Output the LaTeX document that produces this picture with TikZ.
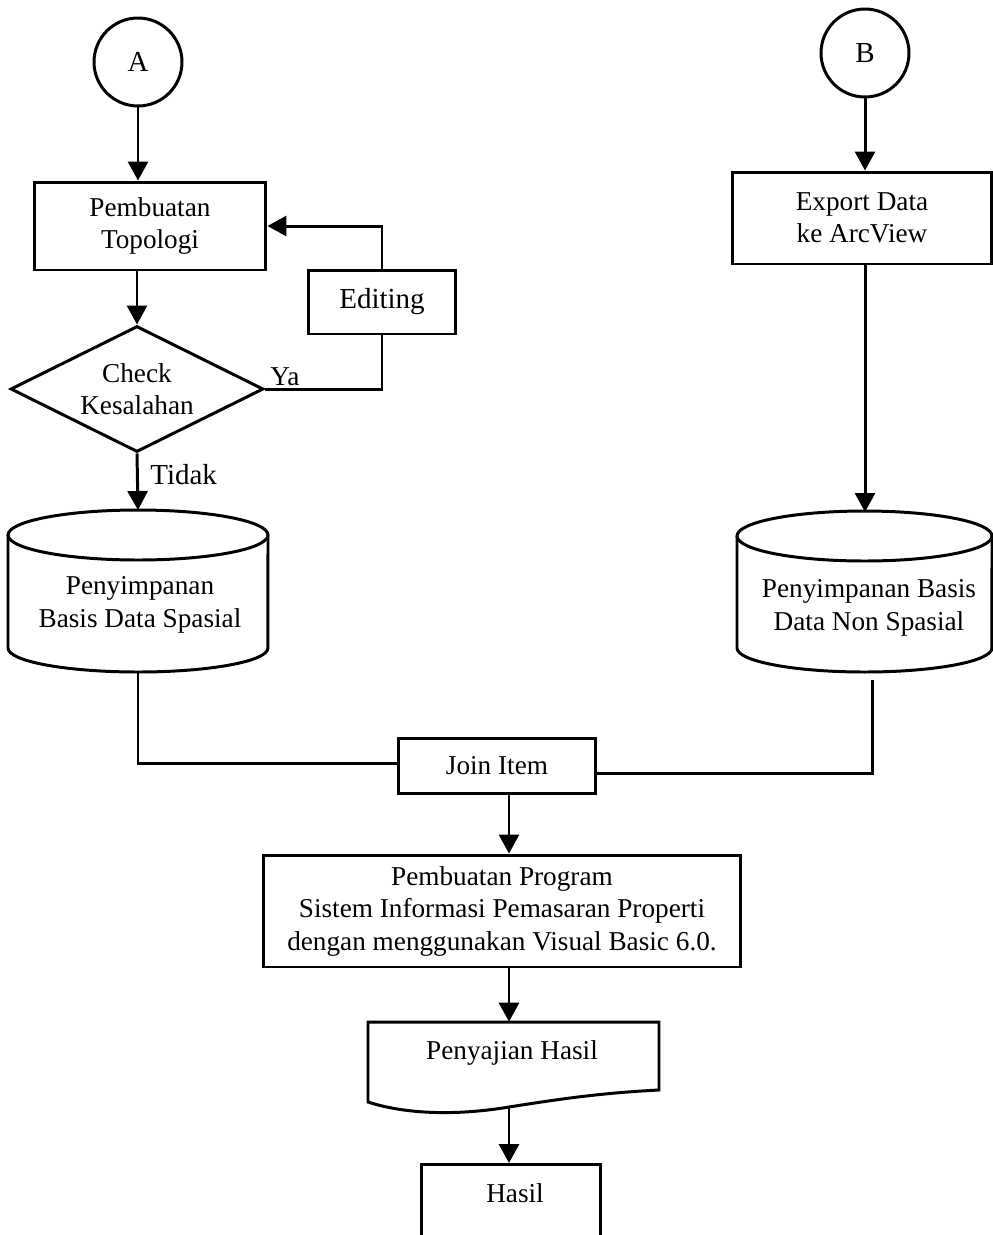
\documentclass[tikz,border=0pt]{standalone}
\usepackage{fontspec}
\setmainfont{Liberation Serif}
\usetikzlibrary{arrows.meta,shapes.geometric}
\begin{document}
\begin{tikzpicture}[x=0.02cm,y=-0.02cm,
  line/.style={line width=1.7pt},
  arr/.style={line, -{Triangle[length=0.38cm,width=0.4cm]}},
  txt/.style={font=\fontsize{15.5}{18.5}\selectfont, align=center},
  bigtxt/.style={font=\fontsize{16.5}{19.5}\selectfont},
  box/.style={txt, draw, line width=1.7pt, rectangle, inner sep=0pt},
  conn/.style={bigtxt, draw, circle, line width=1.7pt, minimum size=1.76cm, inner sep=0pt},
  plain/.style={txt, inner sep=0pt},
]
\useasboundingbox (0,0) rectangle (993,1235);
\clip (0,0) rectangle (993,1235);

% connectors A and B
\node[conn] (circA) at (138,62) {A};
\node[conn] (circB) at (865,53) {B};

% left branch: topology
\node[box, minimum width=4.64cm, minimum height=1.76cm] (topo) at (150,226) {Pembuatan\\Topologi};
\node[box, bigtxt, minimum width=2.96cm, minimum height=1.28cm] (edit) at (382,302) {Editing};
\node[txt, draw, diamond, aspect=2, line width=1.7pt, minimum width=5.06cm,
      minimum height=2.52cm, inner sep=0pt] (dia) at (137,389) {Check\\Kesalahan};

% left database cylinder
\draw[line] (8,535) -- (8,648)
  arc[start angle=180, end angle=360, x radius=2.6cm, y radius=0.48cm]
  -- (268,535);
\draw[line] (138,535) ellipse [x radius=2.6cm, y radius=0.5cm];
\node[plain] (dbL) at (140,605) {Penyimpanan\\Basis Data Spasial};
\coordinate (dbLtop) at (138,510);
\coordinate (dbLbot) at (138,672);

% right branch: export
\node[box, minimum width=5.2cm, minimum height=1.84cm] (export) at (862,218) {Export Data\\ke ArcView};

% right database cylinder
\draw[line] (737,536) -- (737,648)
  arc[start angle=180, end angle=360, x radius=2.55cm, y radius=0.48cm]
  -- (992,536);
\draw[line] (864.5,536) ellipse [x radius=2.55cm, y radius=0.5cm];
\node[plain] (dbR) at (869,608) {Penyimpanan Basis\\Data Non Spasial};
\coordinate (dbRtop) at (865,512);
\coordinate (dbRbot) at (872,680);

% joining and program
\node[box, minimum width=3.94cm, minimum height=1.1cm] (join) at (497,765.5) {Join Item};
\node[box, minimum width=9.54cm, minimum height=2.24cm] (prog) at (502,911)
  {Pembuatan Program\\ Sistem Informasi Pemasaran Properti\\dengan menggunakan Visual Basic 6.0.};

% document shape for the presentation step
\draw[line] (368,1022) -- (659,1022) -- (659,1090)
  .. controls (600,1093) and (560,1099) .. (509,1107)
  .. controls (455,1116) and (405,1114) .. (368,1102) -- cycle;
\node[plain, minimum width=5.82cm, minimum height=1.36cm] (present) at (513.5,1056) {};
\node[plain] (presenttext) at (512,1053) {Penyajian Hasil};
\coordinate (docbot) at (509,1107);

% result box, running off the page
\node[box, anchor=north, minimum width=3.6cm, minimum height=2cm] (hasil) at (511,1163) {};
\node[plain] (hasiltext) at (515,1193) {Hasil};

% flow lines
\draw[arr] (circA.south) -- (circA.south |- topo.north);
\draw[arr] (edit.north) |- (topo.east);
\draw[arr] (topo.south -| dia.north) -- (dia.north);
\draw[line] (dia.east) -| (edit.south);
\node[plain, anchor=south west] (ya) at (270,386) {Ya};
\draw[arr] (dia.south) -- (dbLtop);
\node[plain, bigtxt, anchor=west] (tidak) at (150,475) {Tidak};

\draw[arr] (circB.south) -- (circB.south |- export.north);
\draw[arr] (export.south -| circB) -- (dbRtop);

\draw[line] (dbLbot) |- ([yshift=0.04cm]join.west);
\draw[line] (dbRbot) |- ([yshift=-0.16cm]join.east);
\draw[arr] (join.south -| docbot) -- (docbot |- prog.north);
\draw[arr] (prog.south -| docbot) -- (docbot |- present.north);
\draw[arr] (docbot) -- (docbot |- hasil.north);
\end{tikzpicture}
\end{document}
